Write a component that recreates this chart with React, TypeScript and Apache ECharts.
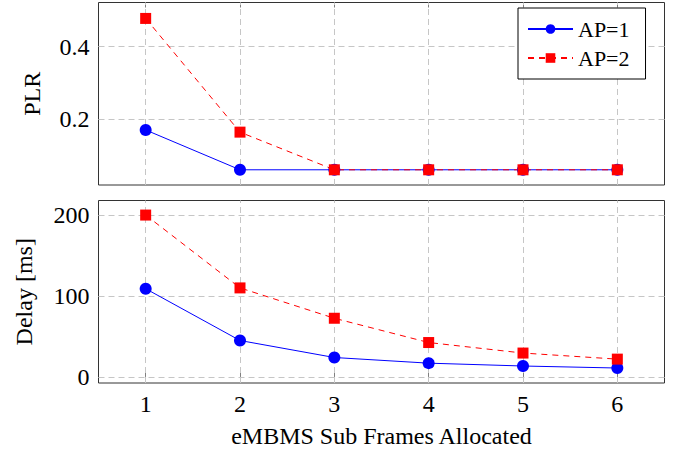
import React, { useEffect, useRef } from "react";
import * as echarts from "echarts";

const xValues = [1, 2, 3, 4, 5, 6];
const seriesNames = ["AP=1", "AP=2"];
const plrAP1 = [0.17, 0.06, 0.06, 0.06, 0.06, 0.06];
const plrAP2 = [0.478, 0.164, 0.06, 0.06, 0.06, 0.06];
const delayAP1 = [109, 45, 24, 17, 13.5, 11];
const delayAP2 = [200, 110, 72.5, 42.5, 29.5, 22];
const xTicks = [1, 2, 3, 4, 5, 6];
const plrTicks = [0.2, 0.4];
const delayTicks = [0, 100, 200];

const FONT = "'Liberation Serif', 'Times New Roman', Times, serif";
const BLUE = "#0000ff";
const RED = "#ff0000";
const GRIDC = "#c6c6c6";
const TICKC = "#808080";

const pairs = (vals: number[]) => xValues.map((x, i) => [x, vals[i]]);

export default function App() {
  const ref = useRef<HTMLDivElement>(null);
  useEffect(() => {
    if (!ref.current) return;
    const chart = echarts.init(ref.current, null, { renderer: "svg" });

    const tickStyle = (vals: number[]) => ({
      show: true,
      inside: true,
      length: 5,
      customValues: vals,
      lineStyle: { color: TICKC, width: 1 },
    });
    const labelStyle = (vals: number[], fmt?: (v: number) => string) => ({
      show: true,
      customValues: vals,
      margin: 9,
      fontFamily: FONT,
      fontSize: 24,
      color: "#000",
      formatter: fmt,
    });
    const noLabel = { show: false };

    const xAxisBase = (gridIndex: number, position: string) => ({
      type: "value",
      gridIndex,
      position,
      min: 0.5,
      max: 6.5,
      axisLine: { show: false },
      splitLine: { show: false },
      axisTick: tickStyle(xTicks),
      axisLabel: noLabel,
    });
    const yAxisBase = (gridIndex: number, position: string, min: number, max: number, ticks: number[]) => ({
      type: "value",
      gridIndex,
      position,
      min,
      max,
      axisLine: { show: false },
      splitLine: { show: false },
      axisTick: tickStyle(ticks),
      axisLabel: noLabel,
    });

    const gridLines = (ticksY: number[]) => ({
      silent: true,
      symbol: ["none", "none"],
      z: 1,
      label: { show: false },
      lineStyle: { color: GRIDC, type: [6, 4], width: 1 },
      emphasis: { disabled: true },
      data: [
        ...xTicks.map((v) => ({ xAxis: v })),
        ...ticksY.map((v) => ({ yAxis: v })),
      ],
    });

    const lineSeries = (
      name: string,
      data: number[],
      xi: number,
      yi: number,
      color: string,
      dashed: boolean
    ) => ({
      type: "line",
      name,
      xAxisIndex: xi,
      yAxisIndex: yi,
      data: pairs(data),
      z: 3,
      symbol: dashed ? "rect" : "circle",
      symbolSize: dashed ? 11 : 12,
      itemStyle: { color },
      lineStyle: { color, width: 1, type: dashed ? [6, 5] : "solid" },
      silent: true,
    });

    const nameStyle = { fontFamily: FONT, fontSize: 24, color: "#000" };

    chart.setOption({
      animation: false,
      backgroundColor: "#fff",
      grid: [
        { left: 98.5, top: 2.5, width: 566, height: 182.5, show: true, borderColor: "#333", borderWidth: 1, backgroundColor: "transparent" },
        { left: 98.5, top: 200.5, width: 566, height: 182.5, show: true, borderColor: "#333", borderWidth: 1, backgroundColor: "transparent" },
      ],
      legend: {
        orient: "vertical",
        left: 518,
        top: 8,
        padding: [10, 16, 10, 9],
        itemWidth: 45,
        itemHeight: 12,
        itemGap: 7,
        backgroundColor: "#fff",
        borderColor: "#000",
        borderWidth: 1,
        borderRadius: 0,
        textStyle: { fontFamily: FONT, fontSize: 22, color: "#000" },
        data: seriesNames,
      },
      xAxis: [
        xAxisBase(0, "bottom"),
        xAxisBase(0, "top"),
        {
          ...xAxisBase(1, "bottom"),
          axisLabel: labelStyle(xTicks, (v: number) => String(v)),
          name: "eMBMS Sub Frames Allocated",
          nameLocation: "middle",
          nameGap: 41,
          nameTextStyle: nameStyle,
        },
        xAxisBase(1, "top"),
      ],
      yAxis: [
        {
          ...yAxisBase(0, "left", 0.018, 0.522, plrTicks),
          axisLabel: labelStyle(plrTicks, (v: number) => v.toFixed(1)),
          name: "PLR",
          nameLocation: "middle",
          nameGap: 55,
          nameRotate: 90,
          nameTextStyle: nameStyle,
        },
        yAxisBase(0, "right", 0.018, 0.522, plrTicks),
        {
          ...yAxisBase(1, "left", -7.5, 218, delayTicks),
          axisLabel: labelStyle(delayTicks, (v: number) => String(Math.round(v))),
          name: "Delay [ms]",
          nameLocation: "middle",
          nameGap: 63,
          nameRotate: 90,
          nameTextStyle: nameStyle,
        },
        yAxisBase(1, "right", -7.5, 218, delayTicks),
      ],
      series: [
        lineSeries("AP=1", plrAP1, 0, 0, BLUE, false),
        lineSeries("AP=2", plrAP2, 0, 0, RED, true),
        lineSeries("AP=1", delayAP1, 2, 2, BLUE, false),
        lineSeries("AP=2", delayAP2, 2, 2, RED, true),
        { type: "line", name: "grid0", xAxisIndex: 0, yAxisIndex: 0, data: [], z: 1, silent: true, markLine: gridLines(plrTicks) },
        { type: "line", name: "grid1", xAxisIndex: 2, yAxisIndex: 2, data: [], z: 1, silent: true, markLine: gridLines(delayTicks) },
      ],
    });
    return () => chart.dispose();
  }, []);
  return (
    <div
      ref={ref}
      style={{ position: "fixed", left: 0, top: 0, width: 681, height: 453 }}
    />
  );
}
